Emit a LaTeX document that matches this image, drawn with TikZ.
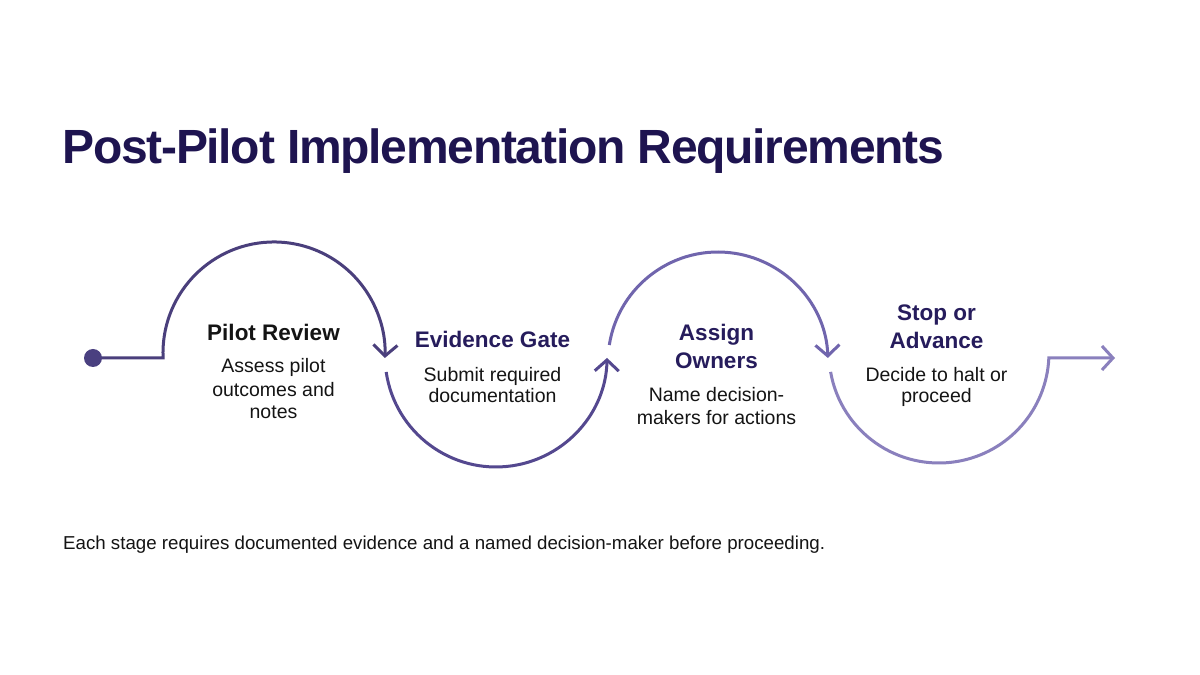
\documentclass[tikz,border=0pt]{standalone}
\usepackage{fontspec}
\setmainfont{Liberation Sans}
\newfontfamily\titlefont[LetterSpace=-2.6]{Liberation Sans}
\usetikzlibrary{arrows.meta}
\definecolor{titlecol}{HTML}{1E1450}
\definecolor{headcol}{HTML}{261C5C}
\definecolor{blackcol}{HTML}{141414}
\definecolor{bodycol}{HTML}{141414}
\definecolor{arcA}{HTML}{4A3F7C}
\definecolor{arcB}{HTML}{54488F}
\definecolor{arcC}{HTML}{7065AD}
\definecolor{arcD}{HTML}{8A80BD}
\definecolor{dotcol}{HTML}{4A4080}
\begin{document}
\begin{tikzpicture}[x=1pt,y=1pt,
  flow/.style={line width=3pt},
  tip/.style={-{Straight Barb[length=11pt,width=24pt]}},
  headtxt/.style={anchor=base,inner sep=0pt,font=\fontsize{22.5}{27}\selectfont\bfseries,text=headcol},
  bodytxt/.style={anchor=base,inner sep=0pt,font=\fontsize{19.5}{23}\selectfont,text=bodycol}]
\useasboundingbox (0,0) rectangle (1200,675);
\fill[white] (0,0) rectangle (1200,675);

% title
\node[anchor=base west,inner sep=0pt,text=titlecol,font=\titlefont\fontsize{48}{56}\selectfont\bfseries] (title) at (62,511) {Post-Pilot Implementation Requirements};

% path coordinates
\coordinate (dot) at (93,317);
\coordinate (a1s) at (163.1,317);
\coordinate (a2s) at (386.2,303);
\coordinate (a3s) at (609.3,330);
\coordinate (a4s) at (830.6,303.1);
\coordinate (a4e) at (1048.9,317);
\coordinate (endp) at (1115,317);

\draw[flow,arcA,tip] (dot) -- (a1s) arc[start angle=182.6,end angle=-2.6,radius=111];
\fill[dotcol] (dot) circle[radius=9];
\draw[flow,arcB,tip] (a2s) arc[start angle=188.3,end angle=359,radius=111];
\draw[flow,arcC,tip] (a3s) arc[start angle=171.1,end angle=2.1,radius=110];
\draw[flow,arcD,tip] (a4s) arc[start angle=189.9,end angle=357.4,radius=110] -- (endp);

% stage 1
\node[headtxt,text=blackcol] (h1) at (273.5,334) {Pilot Review};
\node[bodytxt] (b1a) at (273.5,302) {Assess pilot};
\node[bodytxt] (b1b) at (273.5,278.5) {outcomes and};
\node[bodytxt] (b1c) at (273.5,256) {notes};

% stage 2
\node[headtxt] (h2) at (492.5,327) {Evidence Gate};
\node[bodytxt] (b2a) at (492.5,293) {Submit required};
\node[bodytxt] (b2b) at (492.5,272) {documentation};

% stage 3
\node[headtxt] (h3a) at (716.5,334) {Assign};
\node[headtxt] (h3b) at (716.5,306) {Owners};
\node[bodytxt] (b3a) at (716.5,273) {Name decision-};
\node[bodytxt] (b3b) at (716.5,250) {makers for actions};

% stage 4
\node[headtxt] (h4a) at (936.5,354) {Stop or};
\node[headtxt] (h4b) at (936.5,326) {Advance};
\node[bodytxt] (b4a) at (936.5,293) {Decide to halt or};
\node[bodytxt] (b4b) at (936.5,272) {proceed};

% footer
\node[anchor=base west,inner sep=0pt,text=bodycol,font=\fontsize{18.7}{22}\selectfont] (foot) at (63,125) {Each stage requires documented evidence and a named decision-maker before proceeding.};
\end{tikzpicture}
\end{document}
